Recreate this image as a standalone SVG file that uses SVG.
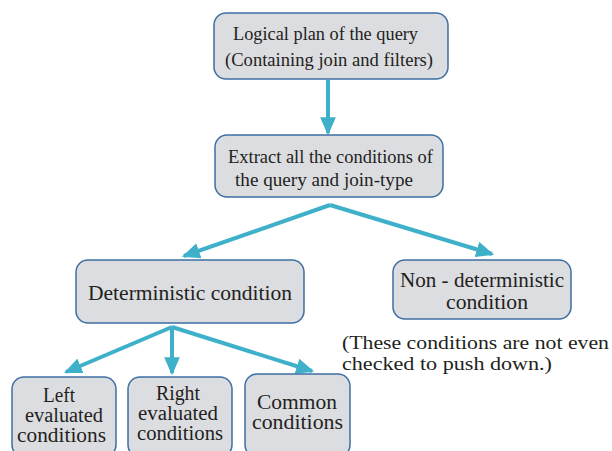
<svg xmlns="http://www.w3.org/2000/svg" width="612" height="451" viewBox="0 0 612 451">
<style>
.box{fill:#dcdde0;stroke:#3d6fa3;stroke-width:1.5}
.t{fill:#231f20;text-anchor:middle}
.note{text-anchor:start}
.conn{stroke:#3fb0c9;stroke-width:4;fill:none}
</style>
<defs>
<marker id="ah" markerUnits="userSpaceOnUse" markerWidth="18" markerHeight="16" refX="14" refY="7" orient="auto" viewBox="0 0 16 14">
<path d="M0,0 L16,7 L0,14 Z" fill="#3fb0c9"/>
</marker>
</defs>
<rect width="612" height="451" fill="#ffffff"/>
<g id="connectors">
<line class="conn" x1="328" y1="80" x2="328" y2="133" marker-end="url(#ah)"/>
<line class="conn" x1="330" y1="205" x2="184" y2="256" marker-end="url(#ah)"/>
<line class="conn" x1="330" y1="205" x2="492" y2="254" marker-end="url(#ah)"/>
<line class="conn" x1="172" y1="327" x2="66" y2="372" marker-end="url(#ah)"/>
<line class="conn" x1="172" y1="327" x2="172" y2="373" marker-end="url(#ah)"/>
<line class="conn" x1="172" y1="327" x2="312" y2="371" marker-end="url(#ah)"/>
</g>
<g font-family="Liberation Serif, serif" font-size="18">
<g id="n1">
<rect class="box" x="214" y="13" width="234" height="66" rx="12"/>
<text class="t" x="325.5" y="40" textLength="185" lengthAdjust="spacingAndGlyphs">Logical plan of the query</text>
<text class="t" x="329" y="66" textLength="208" lengthAdjust="spacingAndGlyphs">(Containing join and filters)</text>
</g>
<g id="n2">
<rect class="box" x="215" y="135" width="228" height="62" rx="12"/>
<text class="t" x="330.5" y="163" textLength="205" lengthAdjust="spacingAndGlyphs">Extract all the conditions of</text>
<text class="t" x="324" y="186" textLength="178" lengthAdjust="spacingAndGlyphs">the query and join-type</text>
</g>
<g id="n3" font-size="20.5">
<rect class="box" x="76" y="260" width="228" height="63" rx="12"/>
<text class="t" x="190" y="300" textLength="204" lengthAdjust="spacingAndGlyphs">Deterministic condition</text>
</g>
<g id="n4" font-size="20">
<rect class="box" x="393" y="260" width="178" height="59" rx="12"/>
<text class="t" x="482" y="287" textLength="164" lengthAdjust="spacingAndGlyphs">Non - deterministic</text>
<text class="t" x="487" y="309" textLength="82" lengthAdjust="spacingAndGlyphs">condition</text>
</g>
<g id="note" font-size="19">
<text class="t note" x="342" y="349" textLength="267" lengthAdjust="spacingAndGlyphs">(These conditions are not even</text>
<text class="t note" x="342" y="370" textLength="210" lengthAdjust="spacingAndGlyphs">checked to push down.)</text>
</g>
<g id="n5" font-size="20">
<rect class="box" x="12" y="377" width="104" height="80" rx="12"/>
<text class="t" x="59" y="402" textLength="32" lengthAdjust="spacingAndGlyphs">Left</text>
<text class="t" x="64" y="422" textLength="78" lengthAdjust="spacingAndGlyphs">evaluated</text>
<text class="t" x="61.5" y="442" textLength="89" lengthAdjust="spacingAndGlyphs">conditions</text>
</g>
<g id="n6" font-size="20">
<rect class="box" x="128" y="377" width="104" height="80" rx="12"/>
<text class="t" x="178" y="400" textLength="44" lengthAdjust="spacingAndGlyphs">Right</text>
<text class="t" x="178" y="420" textLength="80" lengthAdjust="spacingAndGlyphs">evaluated</text>
<text class="t" x="180" y="440" textLength="86" lengthAdjust="spacingAndGlyphs">conditions</text>
</g>
<g id="n7" font-size="20">
<rect class="box" x="245" y="374" width="105" height="83" rx="12"/>
<text class="t" x="297" y="409" textLength="80" lengthAdjust="spacingAndGlyphs">Common</text>
<text class="t" x="297.5" y="429" textLength="91" lengthAdjust="spacingAndGlyphs">conditions</text>
</g>
</g>
</svg>
